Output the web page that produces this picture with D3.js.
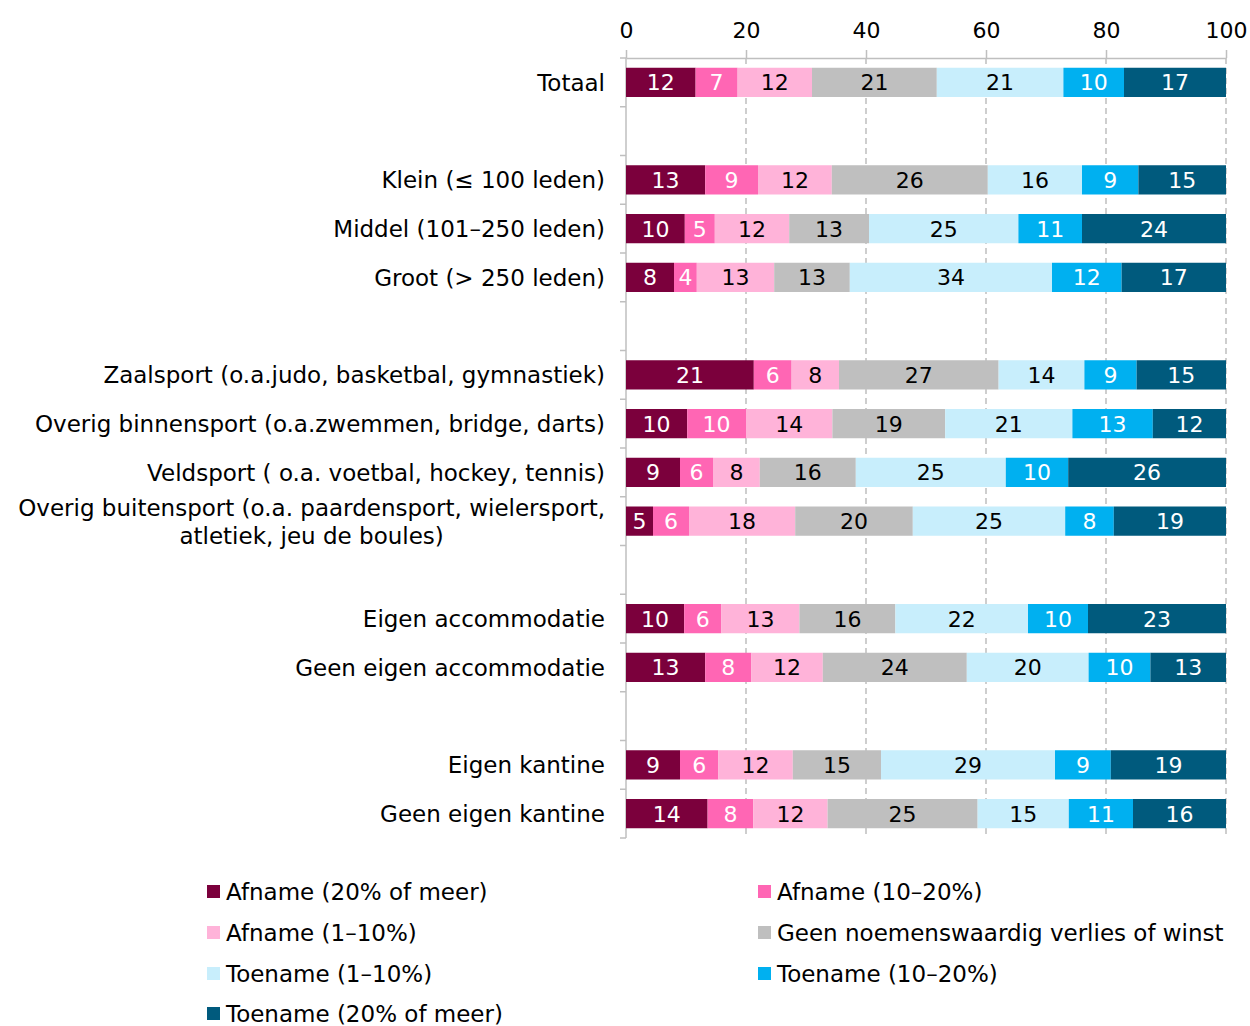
<!doctype html>
<html>
<head>
<meta charset="utf-8">
<script src="https://cdnjs.cloudflare.com/ajax/libs/d3/7.8.5/d3.min.js"></script>
<style>
  body { margin: 0; background: #fff; }
  svg text { font-family: "DejaVu Sans", sans-serif; }
</style>
</head>
<body>
<svg id="chart" width="1250" height="1026"></svg>
<script>
// categories, with the group each belongs to (a blank row sits between groups)
const categories = [
  "Totaal",
  "Klein (≤ 100 leden)",
  "Middel (101–250 leden)",
  "Groot (> 250 leden)",
  "Zaalsport (o.a.judo, basketbal, gymnastiek)",
  "Overig binnensport (o.a.zwemmen, bridge, darts)",
  "Veldsport ( o.a. voetbal, hockey, tennis)",
  "Overig buitensport (o.a. paardensport, wielersport,\natletiek, jeu de boules)",
  "Eigen accommodatie",
  "Geen eigen accommodatie",
  "Eigen kantine",
  "Geen eigen kantine"
]
const groups = [0, 1, 1, 1, 2, 2, 2, 2, 3, 3, 4, 4]

const seriesNames = [
  "Afname (20% of meer)",
  "Afname (10–20%)",
  "Afname (1–10%)",
  "Geen noemenswaardig verlies of winst",
  "Toename (1–10%)",
  "Toename (10–20%)",
  "Toename (20% of meer)"
]
const afname20  = [11.6, 13.2,  9.8,  8.0, 21.3, 10.2,  9.0,  4.5,  9.7, 13.2,  9.0, 13.6]
const afname10  = [ 7.0,  8.8,  5.0,  3.8,  6.3,  9.8,  5.5,  6.0,  6.2,  7.7,  6.4,  7.6]
const afname1   = [12.4, 12.3, 12.4, 12.9,  7.9, 14.4,  7.8, 17.7, 13.0, 11.9, 12.4, 12.4]
const geen      = [20.8, 26.0, 13.3, 12.6, 26.6, 18.8, 16.0, 19.6, 16.0, 24.0, 14.7, 25.0]
const toename1  = [21.1, 15.7, 24.9, 33.7, 14.3, 21.2, 25.0, 25.4, 22.1, 20.3, 29.0, 15.2]
const toename10 = [10.1,  9.4, 10.6, 11.6,  8.7, 13.4, 10.4,  8.1, 10.0, 10.3,  9.3, 10.7]
const toename20 = [17.0, 14.6, 24.0, 17.4, 14.9, 12.2, 26.3, 18.7, 23.0, 12.6, 19.2, 15.5]
const xTicks = [0, 20, 40, 60, 80, 100]

const colors = ["#7b003c", "#ff66b4", "#ffb3d9", "#bfbfbf", "#c8eefc", "#00b0f0", "#005a7d"]
const textColors = ["#fff", "#fff", "#000", "#000", "#000", "#fff", "#fff"]

const seriesValues = [afname20, afname10, afname1, geen, toename1, toename10, toename20]
const rows = categories.map((c, i) => {
  const r = { id: "c" + i, label: c }
  seriesNames.forEach((s, j) => r[s] = seriesValues[j][i])
  return r
})

// slot domain with blanks between groups
const slots = []
rows.forEach((r, i) => {
  if (i > 0 && groups[i] !== groups[i - 1]) slots.push("gap" + i)
  slots.push(r.id)
})

const svg = d3.select("#chart")
const plotLeft = 626, plotRight = 1226, plotTop = 58, plotBottom = 838

const x = d3.scaleLinear().domain([0, 100]).range([plotLeft, plotRight])
const y = d3.scaleBand().domain(slots).range([plotTop, plotBottom]).paddingInner(0.4).paddingOuter(0.2)

// gridlines
svg.append("g")
  .selectAll("line")
  .data(xTicks.filter(t => t > 0))
  .enter().append("line")
  .attr("x1", d => x(d)).attr("x2", d => x(d))
  .attr("y1", plotTop).attr("y2", plotBottom)
  .style("stroke", "#bfbfbf")
  .style("stroke-width", "1.5px")
  .style("stroke-dasharray", "6,4")

// top axis
const xAxis = svg.append("g")
  .attr("transform", "translate(0," + plotTop + ")")
  .call(d3.axisTop(x).tickValues(xTicks).tickSize(8).tickPadding(12).tickSizeOuter(0))
xAxis.selectAll("path, line").style("stroke", "#bfbfbf").style("stroke-width", "1.5px")
xAxis.selectAll("text").style("font-size", "22px").style("fill", "#000")
  .style("font-family", "DejaVu Sans, sans-serif")

// left axis with ticks between categories
svg.append("line")
  .attr("x1", plotLeft).attr("x2", plotLeft).attr("y1", plotTop).attr("y2", plotBottom)
  .style("stroke", "#bfbfbf").style("stroke-width", "1.5px")
const step = y.step()
svg.append("g").selectAll("line")
  .data(d3.range(slots.length + 1))
  .enter().append("line")
  .attr("x1", plotLeft - 6).attr("x2", plotLeft)
  .attr("y1", d => plotTop + d * step).attr("y2", d => plotTop + d * step)
  .style("stroke", "#bfbfbf").style("stroke-width", "1.5px")

// stacked bars
const stack = d3.stack().keys(seriesNames)(rows)

const layer = svg.append("g").selectAll("g")
  .data(stack)
  .enter().append("g")
  .style("fill", (d, i) => colors[i])

layer.selectAll("rect")
  .data(d => d)
  .enter().append("rect")
  .attr("x", d => x(d[0]))
  .attr("width", d => x(d[1]) - x(d[0]))
  .attr("y", d => y(d.data.id))
  .attr("height", y.bandwidth())

layer.selectAll("text")
  .data(d => d)
  .enter().append("text")
  .attr("x", d => (x(d[0]) + x(d[1])) / 2)
  .attr("y", d => y(d.data.id) + y.bandwidth() / 2)
  .attr("dy", "0.36em")
  .attr("text-anchor", "middle")
  .style("font-size", "22px")
  .style("fill", function() { return textColors[stack.indexOf(d3.select(this.parentNode).datum())] })
  .text(d => Math.round(d[1] - d[0]))

// category labels
const labels = svg.append("g").selectAll("text")
  .data(rows)
  .enter().append("text")
  .attr("x", 605)
  .attr("y", d => y(d.id) + y.bandwidth() / 2)
  .attr("text-anchor", "end")
  .style("font-size", "23px")
  .style("fill", "#000")

labels.each(function(d) {
  const lines = d.label.split("\n")
  const t = d3.select(this)
  if (lines.length === 1) {
    t.attr("dy", "0.36em").text(d.label)
  } else {
    t.append("tspan").attr("x", 605).attr("dy", "-0.22em").text(lines[0])
    const w0 = this.getComputedTextLength()
    t.append("tspan").attr("x", 605 - w0 / 2).attr("dy", "1.2em")
      .attr("text-anchor", "middle").text(lines[1])
  }
})

// legend
const legendX = [207, 758]
const legendY = [892, 933, 974, 1014]
const legend = svg.append("g").selectAll("g")
  .data(seriesNames)
  .enter().append("g")
  .attr("transform", (d, i) => "translate(" + legendX[i % 2] + "," + legendY[Math.floor(i / 2)] + ")")
legend.append("rect")
  .attr("x", 0).attr("y", -7).attr("width", 13).attr("height", 13)
  .style("fill", (d, i) => colors[i])
legend.append("text")
  .attr("x", 19).attr("dy", "0.36em")
  .style("font-size", "23px")
  .text(d => d)
</script>
</body>
</html>
